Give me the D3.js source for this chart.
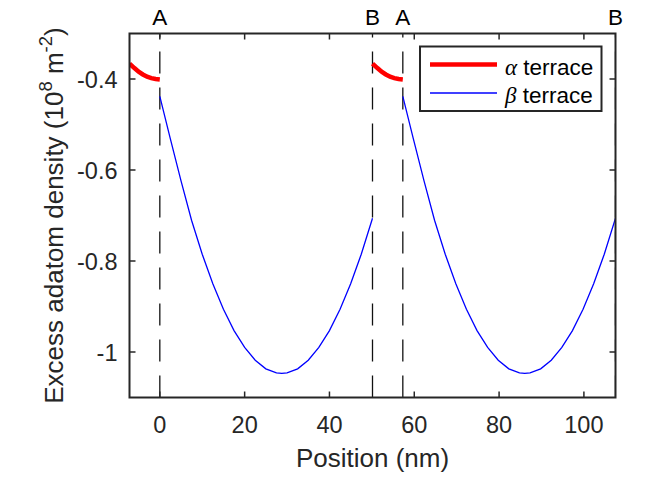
<!DOCTYPE html>
<html>
<head>
<meta charset="utf-8">
<script src="https://cdn.jsdelivr.net/npm/d3@7"></script>
<style>
  body { margin: 0; background: #fff; }
  svg { display: block; font-family: "Liberation Sans", Arial, Helvetica, sans-serif; }
</style>
</head>
<body>
<div id="chart"></div>
<script>
(function () {
  'use strict';

  // step edges (nm)
  var edgeA = [0, 57.3];
  var edgeB = [50.15, 107.45];
  var xDomain = [-7.15, 107.45];
  var yDomain = [-1.1, -0.3];

  var xTicks = [0, 20, 40, 60, 80, 100];
  var yTicks = [-1, -0.8, -0.6, -0.4];
  var yTickLabels = ['-1', '-0.8', '-0.6', '-0.4'];

  // alpha terrace, offset from the A edge it ends on
  var alphaOffset = [-7.15, -6, -5, -4, -3, -2, -1, 0];
  var alphaDensity = [-0.366, -0.376, -0.384, -0.390, -0.395, -0.398, -0.400, -0.401];

  // beta terrace, offset from the A edge it starts on
  var betaOffset = [0, 2.5, 5, 7.5, 10, 12.5, 15, 17.5, 20, 22.5, 25, 27.5, 28.75,
                    30, 32.5, 35, 37.5, 40, 42.5, 45, 47.5, 50.15];
  var betaDensity = [-0.438, -0.532, -0.624, -0.711, -0.785, -0.850, -0.906, -0.953,
                     -0.990, -1.018, -1.037, -1.046, -1.047, -1.046, -1.037, -1.018,
                     -0.990, -0.953, -0.906, -0.850, -0.785, -0.706];

  var W = 648, H = 486;
  var margin = {top: 33.5, right: 32.5, bottom: 88.5, left: 129.5};
  var width = W - margin.left - margin.right,
      height = H - margin.top - margin.bottom;
  var axisColor = '#262626';

  var svg = d3.select('#chart').append('svg')
    .attr('width', W)
    .attr('height', H);

  var g = svg.append('g')
    .attr('transform', 'translate(' + margin.left + ',' + margin.top + ')');

  var x = d3.scaleLinear().domain(xDomain).range([0, width]);
  var y = d3.scaleLinear().domain(yDomain).range([height, 0]);

  svg.append('defs').append('clipPath').attr('id', 'plotclip')
    .append('rect').attr('width', width).attr('height', height);

  var plot = g.append('g').attr('clip-path', 'url(#plotclip)');

  // dashed edge markers, drawn bottom to top
  var edges = edgeA.map(function (v) { return {x: v, label: 'A'}; })
    .concat(edgeB.map(function (v) { return {x: v, label: 'B'}; }));

  plot.selectAll('.edge').data(edges).enter().append('line')
    .attr('class', 'edge')
    .attr('x1', function (d) { return x(d.x); })
    .attr('x2', function (d) { return x(d.x); })
    .attr('y1', height)
    .attr('y2', 0)
    .attr('stroke', '#111')
    .attr('stroke-width', 1.3)
    .attr('stroke-dasharray', '22,14');

  var line = d3.line()
    .x(function (d) { return x(d[0]); })
    .y(function (d) { return y(d[1]); });

  edgeA.forEach(function (a) {
    var beta = betaOffset.map(function (o, i) { return [a + o, betaDensity[i]]; });
    plot.append('path').datum(beta)
      .attr('d', line)
      .attr('fill', 'none')
      .attr('stroke', '#0000ff')
      .attr('stroke-width', 1.3);

    var alpha = alphaOffset.map(function (o, i) { return [a + o, alphaDensity[i]]; });
    plot.append('path').datum(alpha)
      .attr('d', line)
      .attr('fill', 'none')
      .attr('stroke', '#ff0000')
      .attr('stroke-width', 4.5);
  });

  // axes, MATLAB style: ticks inside on all four sides
  var tickLen = 6;
  var ax = g.append('g').attr('stroke', axisColor).attr('stroke-width', 1.5);
  xTicks.forEach(function (t) {
    ax.append('line').attr('x1', x(t)).attr('x2', x(t)).attr('y1', height).attr('y2', height - tickLen);
    ax.append('line').attr('x1', x(t)).attr('x2', x(t)).attr('y1', 0).attr('y2', tickLen);
  });
  yTicks.forEach(function (t) {
    ax.append('line').attr('x1', 0).attr('x2', tickLen).attr('y1', y(t)).attr('y2', y(t));
    ax.append('line').attr('x1', width).attr('x2', width - tickLen).attr('y1', y(t)).attr('y2', y(t));
  });
  g.append('rect')
    .attr('width', width).attr('height', height)
    .attr('fill', 'none')
    .attr('stroke', axisColor)
    .attr('stroke-width', 2);

  g.selectAll('.xlab').data(xTicks).enter().append('text')
    .attr('x', function (d) { return x(d); })
    .attr('y', height + 35.5)
    .attr('text-anchor', 'middle')
    .attr('font-size', 23.5)
    .attr('fill', axisColor)
    .text(function (d) { return d; });

  g.selectAll('.ylab').data(yTicks).enter().append('text')
    .attr('x', -12)
    .attr('y', function (d) { return y(d) + 9; })
    .attr('text-anchor', 'end')
    .attr('font-size', 23.5)
    .attr('fill', axisColor)
    .text(function (d, i) { return yTickLabels[i]; });

  // A / B letters above the plot
  g.selectAll('.edgelab').data(edges).enter().append('text')
    .attr('x', function (d) { return x(d.x); })
    .attr('y', -9)
    .attr('text-anchor', 'middle')
    .attr('font-size', 22.5)
    .attr('fill', '#000')
    .text(function (d) { return d.label; });

  // axis titles
  g.append('text')
    .attr('x', width / 2)
    .attr('y', height + 69)
    .attr('text-anchor', 'middle')
    .attr('font-size', 26)
    .attr('fill', axisColor)
    .text('Position (nm)');

  var yt = svg.append('text')
    .attr('transform', 'translate(63,' + (margin.top + height / 2) + ') rotate(-90)')
    .attr('text-anchor', 'middle')
    .attr('font-size', 26)
    .attr('fill', axisColor);
  yt.append('tspan').text('Excess adatom density (10');
  yt.append('tspan').attr('font-size', 18.5).attr('dy', -11).text('8');
  yt.append('tspan').attr('dy', 11).text(' m');
  yt.append('tspan').attr('font-size', 18.5).attr('dy', -11).text('-2');
  yt.append('tspan').attr('dy', 11).text(')');

  // legend
  var legend = [
    {sym: 'α', color: '#ff0000', w: 4.5},
    {sym: 'β', color: '#0000ff', w: 1.3}
  ];
  var lg = svg.append('g').attr('transform', 'translate(420,46.5)');
  lg.append('rect')
    .attr('width', 181.5).attr('height', 64.5)
    .attr('fill', '#fff')
    .attr('stroke', axisColor)
    .attr('stroke-width', 2);
  var item = lg.selectAll('.item').data(legend).enter().append('g')
    .attr('transform', function (d, i) { return 'translate(0,' + (18 + i * 28.5) + ')'; });
  item.append('line')
    .attr('x1', 10).attr('x2', 77)
    .attr('stroke', function (d) { return d.color; })
    .attr('stroke-width', function (d) { return d.w; });
  var lt = item.append('text')
    .attr('x', 85).attr('y', 10)
    .attr('font-size', 22.5)
    .attr('fill', '#000');
  lt.append('tspan')
    .attr('font-family', '"Liberation Serif", "DejaVu Serif", serif')
    .attr('font-style', 'italic')
    .attr('font-size', 23)
    .text(function (d) { return d.sym; });
  lt.append('tspan').text(' terrace');
}());
</script>
</body>
</html>
